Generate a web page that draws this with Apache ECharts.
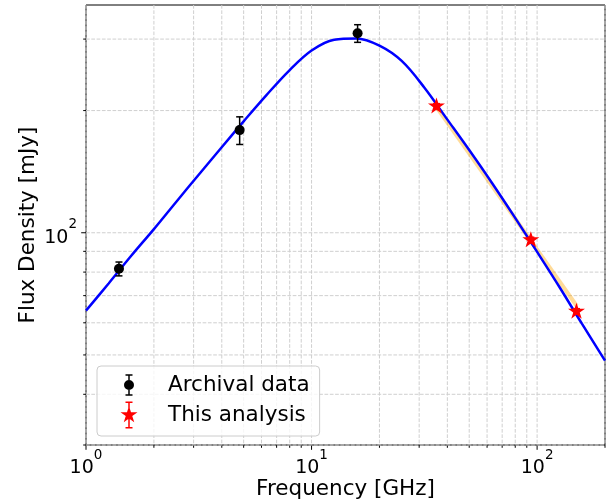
<!DOCTYPE html>
<html>
<head>
<meta charset="utf-8">
<script src="https://cdn.jsdelivr.net/npm/echarts@6/dist/echarts.min.js"></script>
<style>
  html, body { margin: 0; padding: 0; background: #fff; }
  #chart { width: 612px; height: 504px; }
</style>
</head>
<body>
<div id="chart"></div>
<script>
// archival points (GHz, mJy)
const archFreq = [1.4, 4.8, 16.0];
const archFlux = [81.5, 179, 310];
const archErr = [3.2, 14, 15.5];
// this analysis
const newFreq = [35.8, 93.8, 149.5];
const newFlux = [205, 96, 64];
const newErr = [3, 1.5, 1];
// fitted spectrum
const modelFreq = [1.0, 1.26, 1.58, 2.0, 2.51, 3.16, 3.98, 5.01, 6.31, 7.94, 10.0, 12.6, 15.8,
  20.0, 25.1, 31.6, 39.8, 50.1, 63.1, 79.4, 100, 126, 158, 200];
const modelFlux = [64.3, 75.0, 87.5, 102.1, 119.1, 139.0, 162.0, 188.4, 218.3, 250.6, 281.2, 299.0, 301.0,
  289.0, 265.0, 228.0, 190.8, 159.6, 132.6, 109.4, 89.7, 73.3, 59.7, 48.4];
// power-law through the new points
const fitFreq = [36, 150];
const fitFlux = [203, 66];
// axes
const xMin = 1, xMax = 200;
const yMin = 30, yMax = 364;
const xGrid = [1, 2, 3, 4, 5, 6, 7, 8, 9, 10, 20, 30, 40, 50, 60, 70, 80, 90, 100, 200];
const yGrid = [30, 40, 50, 60, 70, 80, 90, 100, 200, 300];
const majors = [1, 10, 100];

const FONT = 'DejaVu Sans';
const chart = echarts.init(document.getElementById('chart'));

const archIcon = 'path://M15 0H85V15H15Z M42.5 0H57.5V216H42.5Z M15 201H85V216H15Z M0 108A50 50 0 1 1 100 108A50 50 0 1 1 0 108Z';
const starIcon = 'path://M50 0H120V15H50Z M77.5 0H92.5V270H77.5Z M50 255H120V270H50Z ' +
  'M85 45.6L105.1 107.4L170 107.4L117.5 145.6L137.5 207.3L85 169.15L32.5 207.3L52.5 145.6L0 107.4L64.9 107.4Z';
const starSymbol = 'path://M50 0L61.23 34.55L97.55 34.55L68.17 55.9L79.39 90.45L50 69.1L20.61 90.45L31.83 55.9L2.45 34.55L38.77 34.55Z';

function powLabel(v) {
  const e = Math.log10(v);
  const r = Math.round(e);
  if (Math.abs(e - r) > 1e-6) return '';
  return '{b|10}{s|' + r + '}';
}
const richTick = {
  b: { fontFamily: FONT, fontSize: 19, color: '#000', lineHeight: 30, verticalAlign: 'bottom' },
  s: { fontFamily: FONT, fontSize: 13.5, color: '#000', lineHeight: 16, verticalAlign: 'top' }
};

const gridStyle = { stroke: '#cfcfcf', lineWidth: 1, lineDash: [3.7, 1.6] };
const tickStyle = { stroke: '#000', lineWidth: 1 };

function renderVLine(params, api) {
  const cs = params.coordSys;
  const x = api.coord([api.value(0), yMin])[0];
  const len = api.value(2) ? 4.8 : 2.8;
  const bottom = cs.y + cs.height;
  return {
    type: 'group',
    children: [
      { type: 'line', shape: { x1: x, y1: cs.y, x2: x, y2: bottom }, style: gridStyle },
      { type: 'line', shape: { x1: x, y1: bottom, x2: x, y2: bottom + len }, style: tickStyle }
    ]
  };
}
function renderHLine(params, api) {
  const cs = params.coordSys;
  const y = api.coord([xMin, api.value(1)])[1];
  const len = api.value(2) ? 4.8 : 2.8;
  return {
    type: 'group',
    children: [
      { type: 'line', shape: { x1: cs.x, y1: y, x2: cs.x + cs.width, y2: y }, style: gridStyle },
      { type: 'line', shape: { x1: cs.x - len, y1: y, x2: cs.x, y2: y }, style: tickStyle }
    ]
  };
}
function renderErr(params, api) {
  const x = api.coord([api.value(0), api.value(1)])[0];
  const lo = api.coord([api.value(0), api.value(1)])[1];
  const hi = api.coord([api.value(0), api.value(2)])[1];
  const cap = 3.5;
  const style = { stroke: api.visual('color'), lineWidth: 1.5 };
  return {
    type: 'group',
    children: [
      { type: 'line', shape: { x1: x, y1: lo, x2: x, y2: hi }, style },
      { type: 'line', shape: { x1: x - cap, y1: hi, x2: x + cap, y2: hi }, style },
      { type: 'line', shape: { x1: x - cap, y1: lo, x2: x + cap, y2: lo }, style }
    ]
  };
}

const legendText = { fontFamily: FONT, fontSize: 21.5, color: '#000', lineHeight: 22 };

const option = {
  animation: false,
  backgroundColor: '#fff',
  grid: {
    left: 86, right: 7, top: 5, bottom: 59,
    show: true, borderColor: '#000', borderWidth: 1, backgroundColor: 'transparent',
    outerBoundsMode: 'none'
  },
  xAxis: {
    type: 'log', logBase: 10, min: xMin, max: xMax,
    name: 'Frequency [GHz]', nameLocation: 'middle', nameGap: 33, nameMoveOverlap: false,
    nameTextStyle: { fontFamily: FONT, fontSize: 21.5, color: '#000' },
    axisLine: { show: false }, axisTick: { show: false }, splitLine: { show: false },
    axisLabel: { formatter: powLabel, rich: richTick, margin: 3, hideOverlap: false, showMinLabel: true, showMaxLabel: true }
  },
  yAxis: {
    type: 'log', logBase: 10, min: yMin, max: yMax,
    name: 'Flux Density [mJy]', nameLocation: 'middle', nameGap: 47, nameRotate: 90, nameMoveOverlap: false,
    nameTextStyle: { fontFamily: FONT, fontSize: 21.5, color: '#000' },
    axisLine: { show: false }, axisTick: { show: false }, splitLine: { show: false },
    axisLabel: { formatter: powLabel, rich: richTick, margin: 9, hideOverlap: false }
  },
  legend: [
    {
      data: [{ name: 'Archival data', icon: archIcon }],
      left: 97, top: 366, orient: 'vertical', selectedMode: false, z: 10,
      padding: [8, 10, 40, 27], itemWidth: 10, itemHeight: 22,
      backgroundColor: 'rgba(255,255,255,0.8)', borderColor: '#cccccc', borderWidth: 1, borderRadius: 4,
      textStyle: Object.assign({ padding: [0, 0, 0, 29] }, legendText)
    },
    {
      data: [{ name: 'This analysis', icon: starIcon }],
      left: 120.5, top: 401.5, orient: 'vertical', selectedMode: false, z: 11,
      padding: 0, itemWidth: 17, itemHeight: 27,
      textStyle: Object.assign({ padding: [0, 0, 0, 25.5] }, legendText)
    }
  ],
  series: [
    {
      type: 'custom', silent: true, z: 1,
      renderItem: renderVLine,
      encode: { x: 0, y: 1 },
      data: xGrid.map(v => [v, yMin, majors.includes(v) ? 1 : 0])
    },
    {
      type: 'custom', silent: true, z: 1,
      renderItem: renderHLine,
      encode: { x: 0, y: 1 },
      data: yGrid.map(v => [xMin, v, majors.includes(v) ? 1 : 0])
    },
    {
      type: 'line', silent: true, z: 3, symbol: 'none',
      lineStyle: { color: 'rgba(255,165,0,0.4)', width: 4 },
      data: fitFreq.map((f, i) => [f, fitFlux[i]])
    },
    {
      type: 'line', silent: true, z: 4, symbol: 'none', smooth: 0.35,
      lineStyle: { color: '#0000ff', width: 2.5 },
      data: modelFreq.map((f, i) => [f, modelFlux[i]])
    },
    {
      type: 'custom', silent: true, z: 5,
      renderItem: renderErr, itemStyle: { color: '#000' },
      encode: { x: 0, y: [1, 2] },
      data: archFreq.map((f, i) => [f, archFlux[i] - archErr[i], archFlux[i] + archErr[i]])
    },
    {
      type: 'custom', silent: true, z: 5,
      renderItem: renderErr, itemStyle: { color: '#ff0000' },
      encode: { x: 0, y: [1, 2] },
      data: newFreq.map((f, i) => [f, newFlux[i] - newErr[i], newFlux[i] + newErr[i]])
    },
    {
      name: 'Archival data', type: 'scatter', silent: true, z: 6,
      symbol: 'circle', symbolSize: 10, itemStyle: { color: '#000', opacity: 1 },
      data: archFreq.map((f, i) => [f, archFlux[i]])
    },
    {
      name: 'This analysis', type: 'scatter', silent: true, z: 6,
      symbol: starSymbol, symbolSize: [17, 16], symbolOffset: [0, -0.8],
      itemStyle: { color: '#ff0000', opacity: 1 },
      data: newFreq.map((f, i) => [f, newFlux[i]])
    }
  ]
};
chart.setOption(option);
</script>
</body>
</html>
